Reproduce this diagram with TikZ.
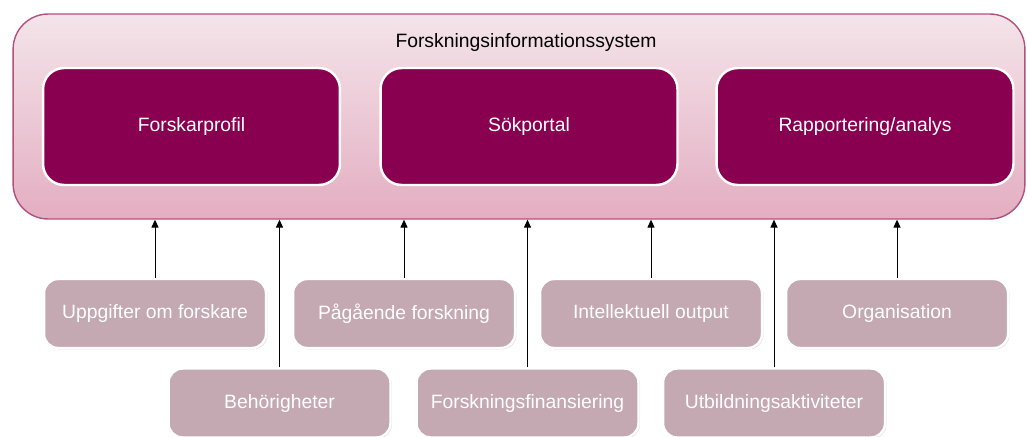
\documentclass[tikz,border=0pt]{standalone}
\usepackage{fontspec}
\setmainfont{Liberation Sans}
\usetikzlibrary{arrows.meta,shadows}

\definecolor{plum}{RGB}{137,0,81}
\definecolor{mauve}{RGB}{196,168,178}
\definecolor{rosetop}{RGB}{244,228,234}
\definecolor{rosebot}{RGB}{227,174,193}
\definecolor{roseline}{RGB}{180,80,125}

\tikzset{
  modul/.style={rounded corners=12pt, fill=plum, draw=white, line width=1.4pt,
    text=white, minimum width=5.94cm, minimum height=2.34cm,
    font=\fontsize{11}{13}\selectfont,
    drop shadow={opacity=0.2, shadow xshift=0.6pt, shadow yshift=-0.6pt}},
  uppgift/.style={rounded corners=8pt, fill=mauve, draw=white, line width=1.4pt,
    text=white, minimum width=4.44cm, minimum height=1.38cm,
    font=\fontsize{11}{13}\selectfont,
    drop shadow={opacity=0.25, shadow xshift=0.8pt, shadow yshift=-0.8pt}},
  flode/.style={-{Triangle[length=4.5pt,width=4pt]}, line width=0.55pt}
}

\begin{document}
\begin{tikzpicture}[x=0.02cm, y=-0.02cm]
  \useasboundingbox (0,0) rectangle (1027,436);

  % the system frame
  \node[rounded corners=20pt, draw=roseline, line width=0.8pt,
        top color=rosetop, bottom color=rosebot,
        minimum width=20.24cm, minimum height=4.1cm] (fis) at (519,116.5) {};
  \node[font=\fontsize{11}{13}\selectfont] (titel) at (526,43) {Forskningsinformationssystem};

  % modules
  \node[modul] (profil) at (191.5,126.5) {Forskarprofil};
  \node[modul] (sok) at (529,126.5) {Sökportal};
  \node[modul] (rapport) at (865,126.5) {Rapportering/analys};

  % data, first row
  \node[uppgift] (forskare) at (155,313.5) {Uppgifter om forskare};
  \node[uppgift] (pagaende) at (404,313.5) {Pågående forskning};
  \node[uppgift] (output) at (651,313.5) {Intellektuell output};
  \node[uppgift] (org) at (897,313.5) {Organisation};

  % data, second row
  \node[uppgift] (behorig) at (279.5,403) {Behörigheter};
  \node[uppgift] (finans) at (527.5,403) {Forskningsfinansiering};
  \node[uppgift] (utbildning) at (774,403) {Utbildningsaktiviteter};

  \foreach \n in {forskare,pagaende,output,org,behorig,finans,utbildning}
    \draw[flode] (\n.north) -- (\n.north |- fis.south);
\end{tikzpicture}
\end{document}
